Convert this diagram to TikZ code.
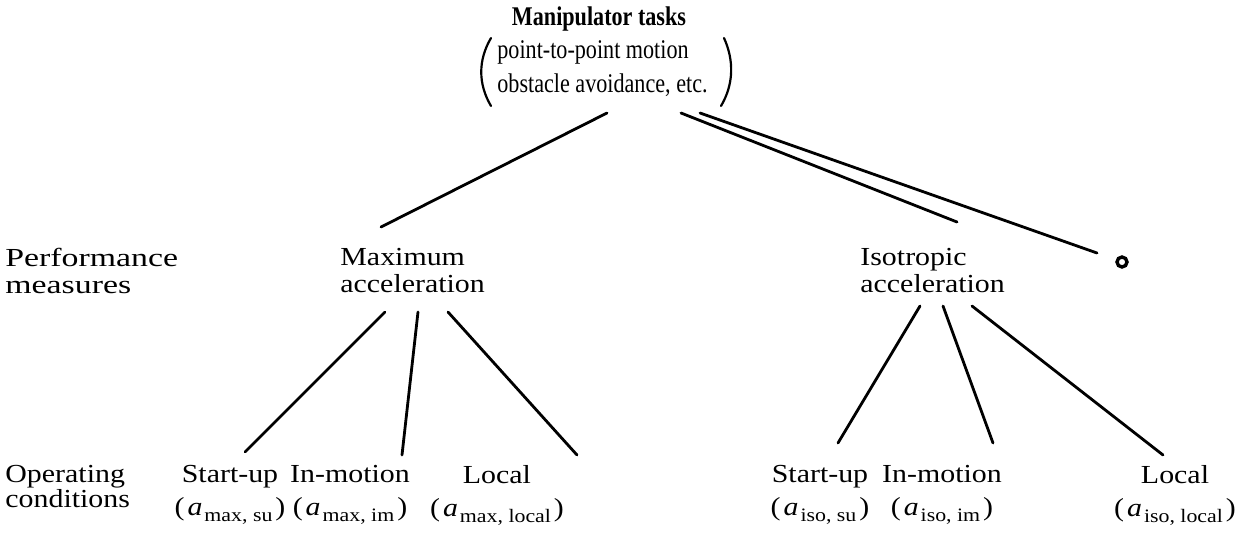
\documentclass[tikz,border=0pt]{standalone}
\usepackage{fontspec}
\setmainfont[FakeStretch=1.15]{Liberation Serif}
\newfontfamily\topfont[FakeStretch=0.82]{Liberation Serif}
\newfontfamily\widefont[FakeStretch=1.3]{Liberation Serif}
\newcommand\accsym[2]{(\kern1.5pt\textit{a}\kern1pt\raisebox{-0.5ex}{\fontsize{9.5}{10}\selectfont #1, #2}\kern1.5pt)}
\begin{document}
\begin{tikzpicture}[x=0.5pt,y=-0.5pt,
  lbl/.style={inner sep=0pt, align=left, anchor=north west, font=\fontsize{13}{13.5}\selectfont},
  leaf/.style={inner sep=0pt, align=center, anchor=north, font=\fontsize{13}{16.5}\selectfont},
  edge/.style={line width=1.4pt, line cap=round},
  paren/.style={line width=1.1pt, line cap=round},
]
\useasboundingbox (0,0) rectangle (1247,541);
% top
\node[inner sep=0pt, font=\topfont\bfseries\fontsize{13.5}{14}\selectfont] (title) at (599,19) {Manipulator tasks};
\node[inner sep=0pt, align=left, anchor=west, font=\topfont\fontsize{13.5}{17}\selectfont] (tasks) at (497,69) {point-to-point motion\\obstacle avoidance, etc.};
\coordinate (lpa) at (491,38); \coordinate (lpb) at (491,106);
\coordinate (rpa) at (724,38); \coordinate (rpb) at (721,106);
\draw[paren] (lpa) .. controls (478,60) and (478,84) .. (lpb);
\draw[paren] (rpa) .. controls (734,60) and (734,84) .. (rpb);
% performance measures
\node[lbl, font=\widefont\fontsize{13}{13.5}\selectfont] (perf) at (5,248) {Performance\\measures};
\node[lbl] (max) at (340,248) {Maximum\\acceleration};
\node[lbl] (iso) at (860,248) {Isotropic\\acceleration};
\node[circle, draw, line width=1.7pt, minimum size=5pt, inner sep=0pt] (other) at (1122,262) {};
% operating conditions
\node[lbl, font=\fontsize{13}{12.5}\selectfont] (oper) at (5,465) {Operating\\conditions};
\node[leaf] (msu) at (230,465) {Start-up\\\accsym{max}{su}};
\node[leaf] (mim) at (350,465) {In-motion\\\accsym{max}{im}};
\node[leaf] (mlo) at (497,465) {Local\\\accsym{max}{local}};
\node[leaf] (isu) at (820,465) {Start-up\\\accsym{iso}{su}};
\node[leaf] (iim) at (942,465) {In-motion\\\accsym{iso}{im}};
\node[leaf] (ilo) at (1175,465) {Local\\\accsym{iso}{local}};
% connector end points
\coordinate (tA) at (607,113); \coordinate (tB) at (681,113); \coordinate (tC) at (700,113);
\coordinate (mT) at (381,227); \coordinate (iT) at (957,222); \coordinate (oT) at (1097,253);
\coordinate (mA) at (385,312); \coordinate (mB) at (418,312); \coordinate (mC) at (448,312);
\coordinate (msuT) at (245,452); \coordinate (mimT) at (402,455); \coordinate (mloT) at (577,455);
\coordinate (iA) at (920,306); \coordinate (iB) at (943,306); \coordinate (iC) at (972,306);
\coordinate (isuT) at (838,443); \coordinate (iimT) at (993,443); \coordinate (iloT) at (1163,455);
\draw[edge] (tA) -- (mT);
\draw[edge] (tB) -- (iT);
\draw[edge] (tC) -- (oT);
\draw[edge] (mA) -- (msuT);
\draw[edge] (mB) -- (mimT);
\draw[edge] (mC) -- (mloT);
\draw[edge] (iA) -- (isuT);
\draw[edge] (iB) -- (iimT);
\draw[edge] (iC) -- (iloT);
\end{tikzpicture}
\end{document}
